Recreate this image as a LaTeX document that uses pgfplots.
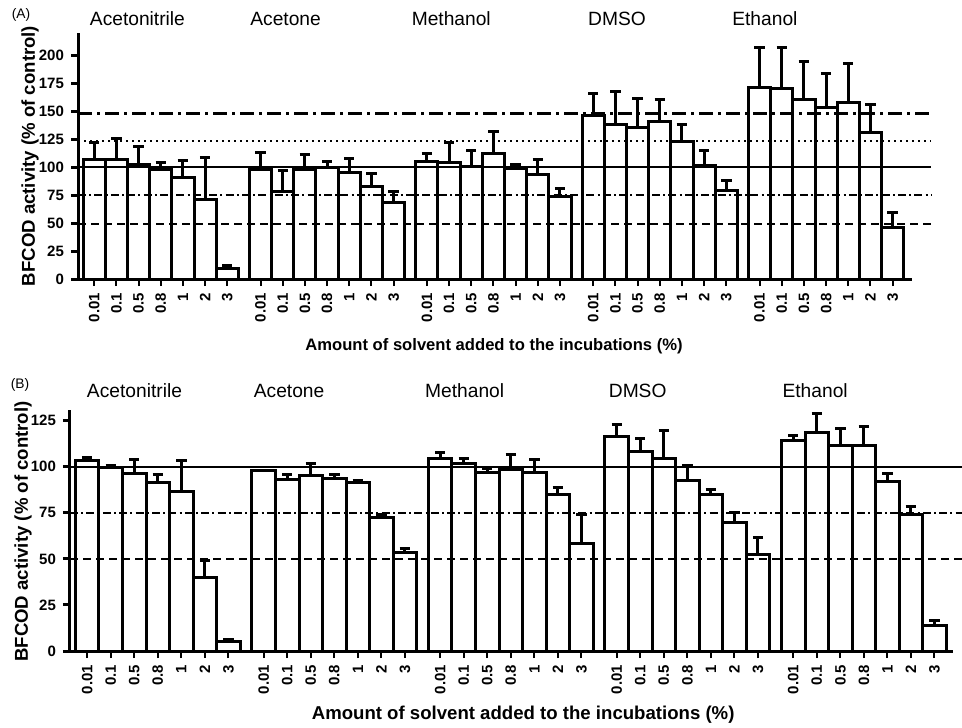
\documentclass[border=0pt]{standalone}
\usepackage{fontspec}
\setmainfont{Liberation Sans}
\usepackage{pgfplots}
\pgfplotsset{compat=1.18}
\usepackage{pgfplotstable}

% Panel A: BFCOD activity, mean and upper SD (x = 7.5*group + concentration index)
\pgfplotstableread{
x    y      e
0    107.3  14.4
1    107.3  18.0
2    102.2  16.2
3    97.5   6.8
4    91.2   14.9
5    70.9   38.2
6    9.6    2.4
7.5  97.8   15.2
8.5  78.0   19.0
9.5  97.8   13.2
10.5 99.3   5.9
11.5 95.0   13.2
12.5 82.8   11.4
13.5 68.5   10.1
15   105.5  6.3
16   104.3  17.4
17   101.0  13.8
18   112.1  19.9
19   99.0   3.2
20   93.9   12.8
21   73.8   6.9
22.5 146.2  20.0
23.5 138.1  29.9
24.5 135.4  26.3
25.5 141.1  19.7
26.5 123.2  14.6
27.5 101.6  13.2
28.5 78.9   9.6
30   171.0  35.9
31   170.1  36.8
32   160.2  34.1
33   153.1  30.8
34   158.1  34.4
35   131.2  24.8
36   46.0   13.5
}\activityA

% Panel B
\pgfplotstableread{
x    y      e
0    103.3  1.6
1    99.7   1.1
2    96.2   7.5
3    91.5   4.4
4    86.8   16.5
5    39.8   9.2
6    4.9    1.1
7.5  97.9   0.3
8.5  93.3   2.4
9.5  95.2   6.6
10.5 93.5   2.4
11.5 91.2   1.2
12.5 72.5   1.8
13.5 53.4   2.0
15   104.7  2.8
16   101.5  3.1
17   97.1   2.0
18   98.4   8.5
19   97.0   6.7
20   84.8   4.2
21   58.6   15.6
22.5 116.5  6.5
23.5 108.2  7.2
24.5 104.7  14.9
25.5 92.3   8.5
26.5 84.7   2.7
27.5 69.5   5.8
28.5 52.1   9.4
30   114.1  3.1
31   118.7  10.3
32   111.6  9.2
33   111.3  10.8
34   91.9   4.5
35   74.2   4.3
36   13.6   3.0
}\activityB

\tikzset{
  grp/.style={font=\fontsize{9.6}{11}\selectfont, anchor=base},
}

\pgfplotsset{
  bfcod/.style={
    scale only axis,
    axis x line*=bottom, axis y line*=left,
    axis line style={line width=1.5pt, black},
    xmin=-0.73, ymin=0,
    clip=false,
    tick align=outside,
    major tick length=3.5pt,
    y tick style={line width=1.5pt, black},
    x tick style={line width=1pt, black},
    /pgf/number format/assume math mode=true,
    ticklabel style={font=\bfseries\fontsize{7.5}{9}\selectfont},
    x tick label style={rotate=90, anchor=east},
    xtick={0,1,2,3,4,5,6,7.5,8.5,9.5,10.5,11.5,12.5,13.5,15,16,17,18,19,20,21,22.5,23.5,24.5,25.5,26.5,27.5,28.5,30,31,32,33,34,35,36},
    xticklabels={0.01,0.1,0.5,0.8,1,2,3,0.01,0.1,0.5,0.8,1,2,3,0.01,0.1,0.5,0.8,1,2,3,0.01,0.1,0.5,0.8,1,2,3,0.01,0.1,0.5,0.8,1,2,3},
    ylabel={BFCOD activity (\% of control)},
    xlabel={Amount of solvent added to the incubations (\%)},
  },
  bars/.style={
    ybar, bar width=1, draw=black, fill=white, line width=1.5pt,
    error bars/.cd, y dir=plus, y explicit,
    error bar style={line width=1.5pt, black},
    error mark options={rotate=90, line width=1.5pt, mark size=2.6pt, black},
  },
  ref100/.style={black, line width=1pt},
  ref75/.style={black, line width=1pt, dash pattern=on 4pt off 1.6pt on 1pt off 1.6pt},
  ref50/.style={black, line width=1pt, dash pattern=on 4pt off 2.5pt},
  ref123/.style={black, line width=1pt, dash pattern=on 1pt off 2pt},
  ref148/.style={black, line width=1.4pt, dash pattern=on 7pt off 2.5pt on 1.5pt off 2.5pt},
}

\begin{document}
\begin{tikzpicture}
\useasboundingbox (0,0) rectangle (481pt,-363.5pt);

% ---------- (A) ----------
\begin{axis}[bfcod,
  at={(39pt,-139.5pt)}, anchor=south west,
  width=416.85pt, height=123pt,
  xmax=36.86, ymax=220,
  ytick={0,25,...,200},
  ylabel style={at={(axis description cs:-0.0576,0.5)}, anchor=center, font=\bfseries\fontsize{9.3}{11}\selectfont},
  xlabel style={at={(axis description cs:0.499,-0.275)}, anchor=center, font=\bfseries\fontsize{8.3}{10}\selectfont},
]
\addplot[bars] table[x=x, y=y, y error=e] {\activityA};
\addplot[ref148] coordinates {(-0.73,148) (37.75,148)};
\addplot[ref123] coordinates {(-0.73,123) (37.75,123)};
\addplot[ref100] coordinates {(-0.73,100) (37.75,100)};
\addplot[ref75]  coordinates {(-0.73,75) (37.75,75)};
\addplot[ref50]  coordinates {(-0.73,49) (37.75,49)};
\node[grp] at (axis cs:1.95,227) {Acetonitrile};
\node[grp] at (axis cs:8.63,227) {Acetone};
\node[grp] at (axis cs:16.1,227) {Methanol};
\node[grp] at (axis cs:23.57,227) {DMSO};
\node[grp] at (axis cs:30.24,227) {Ethanol};
\end{axis}

% ---------- (B) ----------
\begin{axis}[bfcod,
  at={(35pt,-325.5pt)}, anchor=south west,
  width=441.65pt, height=120.7pt,
  xmax=36.8, ymax=131,
  ytick={0,25,...,125},
  ylabel style={at={(axis description cs:-0.053,0.495)}, anchor=center, font=\bfseries\fontsize{9.3}{11}\selectfont},
  xlabel style={at={(axis description cs:0.513,-0.265)}, anchor=center, font=\bfseries\fontsize{9.3}{11}\selectfont},
]
\addplot[bars] table[x=x, y=y, y error=e] {\activityB};
\addplot[ref100] coordinates {(-0.73,100) (37.2,100)};
\addplot[ref75]  coordinates {(-0.73,75) (37.2,75)};
\addplot[ref50]  coordinates {(-0.73,50) (37.2,50)};
\node[grp] at (axis cs:2.01,137.7) {Acetonitrile};
\node[grp] at (axis cs:8.58,137.7) {Acetone};
\node[grp] at (axis cs:16.04,137.7) {Methanol};
\node[grp] at (axis cs:23.39,137.7) {DMSO};
\node[grp] at (axis cs:30.93,137.7) {Ethanol};
\end{axis}

\node[font=\fontsize{6.9}{8}\selectfont] at (10.5pt,-7.5pt) {(A)};
\node[font=\fontsize{6.9}{8}\selectfont] at (10pt,-192.5pt) {(B)};
\end{tikzpicture}
\end{document}
